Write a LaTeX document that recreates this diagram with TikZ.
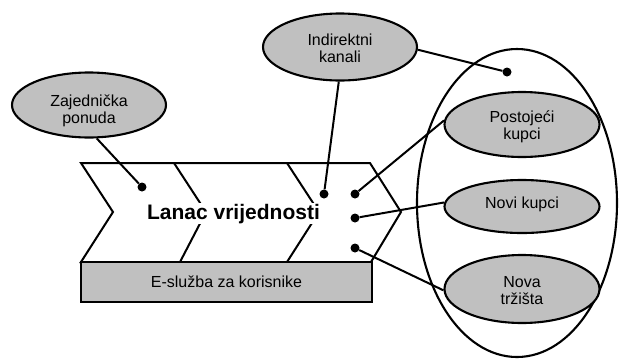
\documentclass[tikz,border=0pt]{standalone}
\usepackage{fontspec}
\setmainfont{Liberation Sans}
\usetikzlibrary{shapes.geometric}
\definecolor{ovalgray}{RGB}{192,192,192}
\tikzset{
  oval/.style={ellipse, draw=black, line width=2.1pt, fill=ovalgray, inner sep=0pt,
    minimum width=154pt},
  ovtext/.style={font=\fontsize{16}{17}\selectfont, align=center, inner sep=0pt},
  dot/.style={circle, fill=black, minimum size=9pt, inner sep=0pt},
  conn/.style={line width=2pt},
  chev/.style={line width=2pt, line join=miter},
}
\begin{document}
\begin{tikzpicture}[x=1pt,y=-1pt]
\useasboundingbox (0,0) rectangle (619,360);
% big ellipse
\node[ellipse, draw=black, line width=2.1pt, minimum width=200pt, minimum height=308pt, inner sep=0pt] (market) at (517,203) {};
% chevron
\draw[chev] (81,163) -- (370,163) -- (401,212) -- (371,262) -- (81,262) -- (113,212) -- cycle;
\draw[chev] (174,163) -- (206,212) -- (180,262);
\draw[chev] (287,163) -- (319,212) -- (287,262);
\node[fill=white, inner sep=1pt, anchor=base, font=\fontsize{21}{23}\selectfont\bfseries] (chain) at (233.5,219) {Lanac vrijednosti};
% service box
\node[draw=black, line width=2.1pt, fill=ovalgray, minimum width=291pt, minimum height=40pt, inner sep=0pt,
  font=\fontsize{16}{17}\selectfont] (serv) at (226.5,282) {E-služba za korisnike};
% dots
\node[dot] (d1) at (142,187) {};
\node[dot] (d2) at (324,194) {};
\node[dot] (d3) at (355,194) {};
\node[dot] (d4) at (355,218) {};
\node[dot] (d5) at (355,248) {};
\node[dot] (d6) at (507,72) {};
% ovals
\node[oval, minimum height=65pt, label={[ovtext, yshift=-6pt]center:Zajednička\\ponuda}] (zaj) at (89,105) {};
\node[oval, minimum height=67pt, label={[ovtext, yshift=-1pt]center:Indirektni\\kanali}] (ind) at (340,47) {};
\node[oval, minimum width=155pt, minimum height=65pt, label={[ovtext, yshift=-2pt]center:Postojeći\\kupci}] (post) at (522,124.5) {};
\node[oval, minimum width=155pt, minimum height=53pt, label={[ovtext, yshift=2pt]center:Novi kupci}] (novi) at (522,206.5) {};
\node[oval, minimum width=155pt, minimum height=68pt, label={[ovtext, yshift=-1.5pt]center:Nova\\tržišta}] (nova) at (522,289) {};
% connectors
\draw[conn] (zaj.-77) -- (d1);
\draw[conn] (ind.-92) -- (d2);
\draw[conn] (ind.-2) -- (d6);
\draw[conn] (d3) -- (post.177);
\draw[conn] (d4) -- (novi.177);
\draw[conn] (d5) -- (nova.181);
\end{tikzpicture}
\end{document}
